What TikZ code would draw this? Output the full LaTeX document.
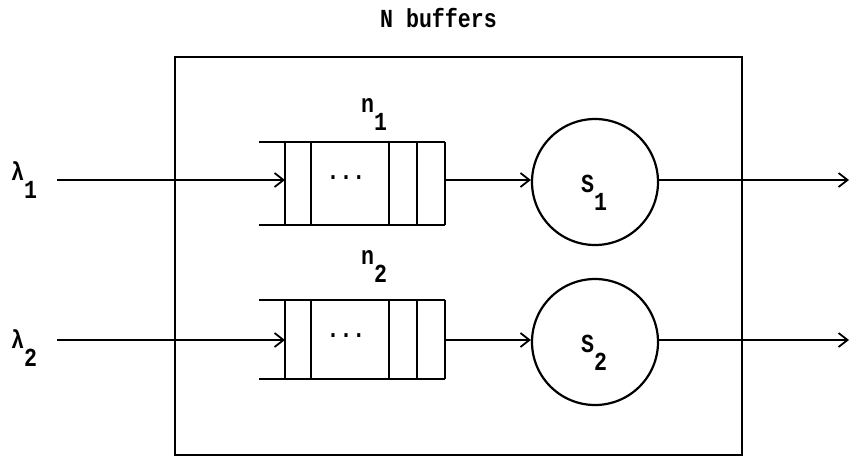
\documentclass[tikz,border=0pt]{standalone}
\usepackage{fontspec}
\setmainfont{Liberation Mono}[FakeStretch=0.83]
\usetikzlibrary{arrows.meta}
\newcommand{\lsub}[2]{#1\raisebox{-18pt}{#2}}
\begin{document}
\begin{tikzpicture}[x=1pt,y=-1pt,
  ln/.style={line width=2.2pt},
  arr/.style={ln,-{Straight Barb[length=9pt,width=14pt,line width=1.8pt]}},
  srv/.style={circle,draw,line width=2.2pt,minimum size=126pt,inner sep=0pt},
  lbl/.style={font=\fontsize{26}{30}\selectfont\bfseries,inner sep=0pt,anchor=base west}]
\useasboundingbox (0,0) rectangle (850,459);
% outer box
\node[draw,line width=2.2pt,minimum width=567pt,minimum height=398pt,inner sep=0pt] (box) at (458.5,256) {};
\node[lbl] (title) at (380,27) {N buffers};
% row 1
\coordinate (in1) at (57,180);
\coordinate (q1in) at (285,180);
\coordinate (q1out) at (445,180);
\coordinate (out1) at (849,180);
\node[srv] (s1) at (595,182) {};
\node[lbl] (s1t) at (581,192) {\lsub{S}{1}};
\draw[ln] (259,142) -- (445,142) (259,225) -- (445,225);
\foreach \x in {285,311,389,417,445} \draw[ln] (\x,142) -- (\x,225);
\node[lbl,anchor=center] (d1) at (346,178) {...};
\node[lbl] (n1) at (361,112) {\lsub{n}{1}};
\node[lbl] (l1) at (11,180) {\lsub{λ}{1}};
\draw[arr] (in1) -- (q1in);
\draw[arr] (q1out) -- (s1.west |- q1out);
\draw[arr] (s1.east |- out1) -- (out1);
% row 2
\coordinate (in2) at (57,340);
\coordinate (q2in) at (285,340);
\coordinate (q2out) at (445,340);
\coordinate (out2) at (849,340);
\node[srv] (s2) at (595,342) {};
\node[lbl] (s2t) at (581,352) {\lsub{S}{2}};
\draw[ln] (259,300) -- (445,300) (259,379) -- (445,379);
\foreach \x in {285,311,389,417,445} \draw[ln] (\x,300) -- (\x,379);
\node[lbl,anchor=center] (d2) at (346,336) {...};
\node[lbl] (n2) at (361,264) {\lsub{n}{2}};
\node[lbl] (l2) at (11,348) {\lsub{λ}{2}};
\draw[arr] (in2) -- (q2in);
\draw[arr] (q2out) -- (s2.west |- q2out);
\draw[arr] (s2.east |- out2) -- (out2);
\end{tikzpicture}
\end{document}
